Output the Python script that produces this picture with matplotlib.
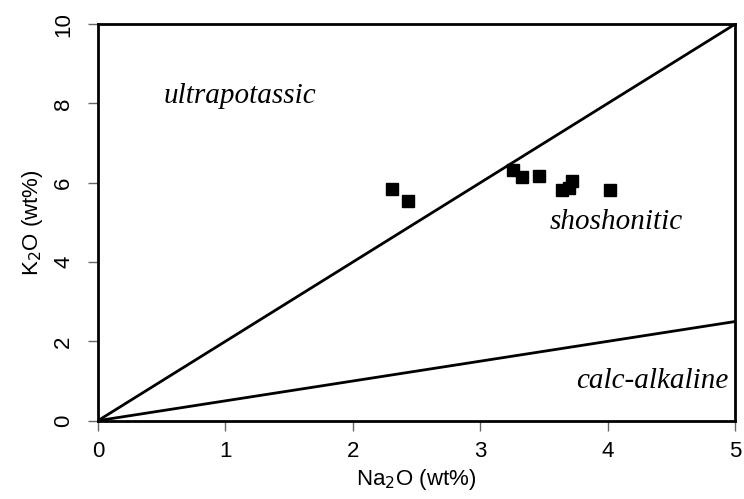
import matplotlib
matplotlib.use('Agg')
import matplotlib.pyplot as plt
import numpy as np

# sample compositions (wt%)
na2o = [2.31, 2.43, 3.26, 3.33, 3.46, 3.64, 3.70, 3.72, 4.02]
k2o = [5.85, 5.55, 6.33, 6.14, 6.18, 5.81, 5.87, 6.05, 5.81]

# field boundaries K2O = slope * Na2O
boundary_slopes = [2.0, 0.5]
field_names = ['ultrapotassic', 'shoshonitic', 'calc-alkaline']
field_pos = [(1.11, 8.18), (4.07, 5.01), (4.35, 0.99)]

plt.rcParams['font.family'] = ['Liberation Sans', 'DejaVu Sans']

fig = plt.figure(figsize=(7.44, 4.99), dpi=100)
ax = fig.add_axes([0.1317, 0.1570, 0.8563, 0.7946])

xs = np.array([0, 5])
for s in boundary_slopes:
    ax.plot(xs, s * xs, color='black', lw=2, solid_capstyle='butt')

ax.plot(na2o, k2o, 's', color='black', markersize=8)

for name, (x, y) in zip(field_names, field_pos):
    ax.text(x, y, name, family=['Liberation Serif'], style='italic',
            fontsize=21, ha='center', va='center')

ax.set_xlim(0, 5)
ax.set_ylim(0, 10)
ax.set_xticks(range(0, 6))
ax.set_yticks(range(0, 11, 2))
ax.tick_params(direction='out', length=7, width=1, labelsize=16, color='#666666')
ax.tick_params(axis='x', pad=8)
ax.tick_params(axis='y', pad=10)
for lab in ax.get_yticklabels():
    lab.set_rotation(90)
    lab.set_va('center')
for sp in ax.spines.values():
    sp.set_linewidth(2)

ax.set_xlabel('Na$_2$O (wt%)', fontsize=16, labelpad=3)
ax.set_ylabel('K$_2$O (wt%)', fontsize=16, labelpad=6)

fig.savefig('out.png', dpi=100)
